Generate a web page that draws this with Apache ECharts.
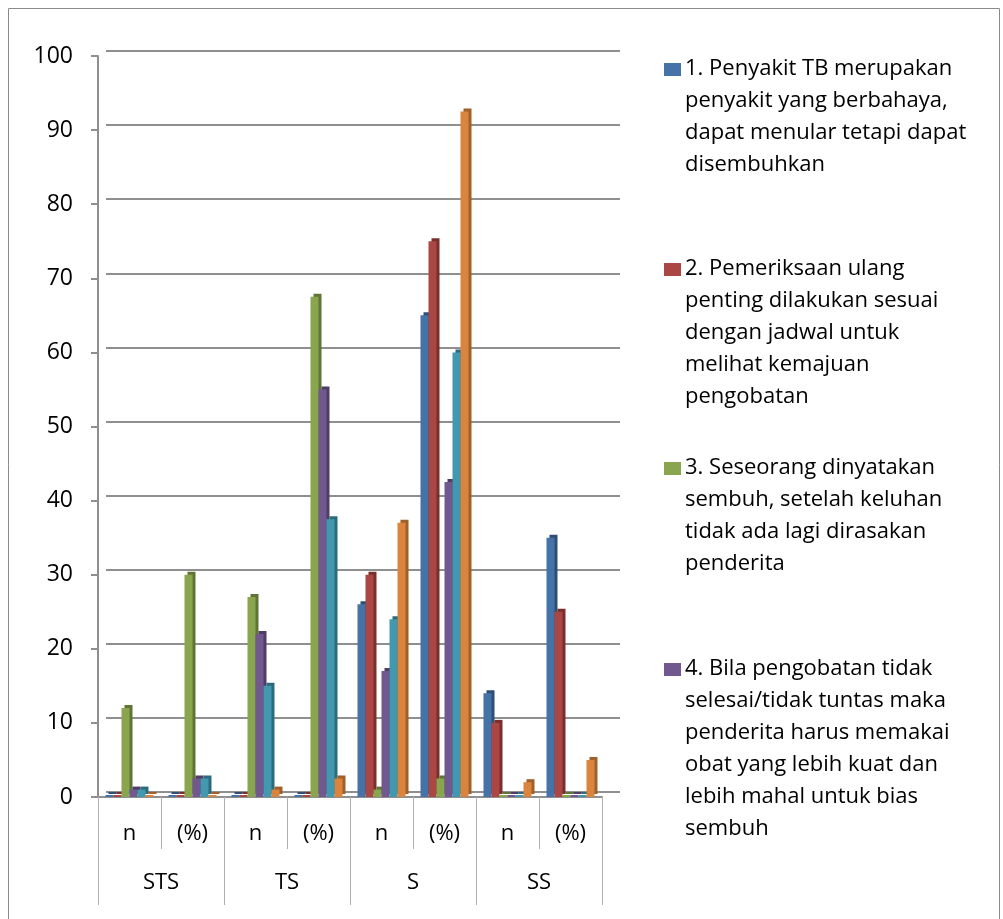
<!DOCTYPE html>
<html>
<head>
<meta charset="utf-8">
<script src="https://cdn.jsdelivr.net/npm/echarts@6/dist/echarts.min.js"></script>
<style>
html,body{margin:0;padding:0;background:#fff;}
#c{width:1003px;height:919px;}
</style>
</head>
<body>
<div id="c"></div>
<script>
// ---- data ----
var subCategories = ['n', '(%)', 'n', '(%)', 'n', '(%)', 'n', '(%)'];
var groupCategories = ['STS', 'TS', 'S', 'SS'];
var yTicks = [0, 10, 20, 30, 40, 50, 60, 70, 80, 90, 100];
var seriesNames = [
  '1. Penyakit TB merupakan penyakit yang berbahaya, dapat menular tetapi dapat disembuhkan',
  '2. Pemeriksaan ulang penting dilakukan sesuai dengan jadwal untuk melihat kemajuan pengobatan',
  '3. Seseorang dinyatakan sembuh, setelah keluhan tidak ada lagi dirasakan penderita',
  '4. Bila pengobatan tidak selesai/tidak tuntas maka penderita harus memakai obat yang lebih kuat dan lebih mahal untuk bias sembuh',
  '5.',
  '6.'
];
var legendLines = [
  ['1. Penyakit TB merupakan', 'penyakit yang berbahaya,', 'dapat menular tetapi dapat', 'disembuhkan'],
  ['2. Pemeriksaan ulang', 'penting dilakukan sesuai', 'dengan jadwal untuk', 'melihat kemajuan', 'pengobatan'],
  ['3. Seseorang dinyatakan', 'sembuh, setelah keluhan', 'tidak ada lagi dirasakan', 'penderita'],
  ['4. Bila pengobatan tidak', 'selesai/tidak tuntas maka', 'penderita harus memakai', 'obat yang lebih kuat dan', 'lebih mahal untuk bias', 'sembuh']
];
var s1 = [0, 0, 0, 0, 26, 65, 14, 35];
var s2 = [0, 0, 0, 0, 30, 75, 10, 25];
var s3 = [12, 30, 27, 67.5, 1, 2.5, 0, 0];
var s4 = [1, 2.5, 22, 55, 17, 42.5, 0, 0];
var s5 = [1, 2.5, 15, 37.5, 24, 60, 0, 0];
var s6 = [0, 0, 1, 2.5, 37, 92.5, 2, 5];
var seriesData = [s1, s2, s3, s4, s5, s6];

// ---- style ----
var colors = ['#4572A7', '#AA4643', '#89A54E', '#71588F', '#4198AF', '#DB843D'];
var sideColors = ['#2F4F77', '#7A2F2D', '#5F7536', '#4F3D66', '#2C6B7C', '#A0602A'];
var FONT = 'Open Sans';
var gridCol = '#8f8f8f';

var series = seriesData.map(function (d, i) {
  return {
    name: seriesNames[i],
    type: 'bar',
    xAxisIndex: 0,
    yAxisIndex: 0,
    data: d,
    barWidth: 8,
    barGap: '0%',
    barMinHeight: 2,
    itemStyle: {
      color: colors[i],
      shadowColor: sideColors[i],
      shadowOffsetX: 3,
      shadowOffsetY: -3,
      shadowBlur: 0
    },
    animation: false
  };
});

var graphics = [{
  type: 'rect',
  shape: { x: 8.5, y: 8.5, width: 991, height: 1000 },
  style: { fill: 'none', stroke: '#8a8a8a', lineWidth: 1 },
  silent: true
}];
var legendTops = [69, 269, 468, 669];
legendLines.forEach(function (lines, i) {
  graphics.push({
    type: 'rect',
    shape: { x: 664, y: legendTops[i] - 6, width: 17, height: 13 },
    style: { fill: colors[i] }
  });
  graphics.push({
    type: 'text',
    x: 685,
    y: legendTops[i] - 16,
    style: {
      text: lines.join('\n'),
      font: '22px "' + FONT + '"',
      fill: '#000',
      lineHeight: 32,
      textVerticalAlign: 'top'
    }
  });
});

var option = {
  animation: false,
  backgroundColor: '#fff',
  grid: [
    { left: 98, right: 401, top: 56, bottom: 122 },
    { left: 106, right: 383, top: 51, bottom: 127 }
  ],
  xAxis: [
    {
      type: 'category', gridIndex: 0, position: 'bottom',
      data: subCategories,
      axisLine: { show: true, lineStyle: { color: gridCol, width: 2 } },
      axisTick: { show: true, interval: 0, length: 52, lineStyle: { color: '#b0b0b0', width: 1 } },
      axisLabel: { interval: 0, margin: 26, fontSize: 22, color: '#000', fontFamily: FONT }
    },
    {
      type: 'category', gridIndex: 0, position: 'bottom',
      data: groupCategories,
      axisLine: { show: false },
      axisTick: { show: true, interval: 0, length: 108, lineStyle: { color: '#b0b0b0', width: 1 } },
      axisLabel: { interval: 0, margin: 75, fontSize: 22, color: '#000', fontFamily: FONT }
    },
    {
      type: 'category', gridIndex: 1, data: subCategories, show: false
    }
  ],
  yAxis: [
    {
      type: 'value', gridIndex: 0, min: 0, max: 100, interval: 10,
      axisLine: { show: true, lineStyle: { color: gridCol, width: 2 } },
      axisTick: { show: true, length: 7, lineStyle: { color: gridCol, width: 2 } },
      splitLine: { show: false },
      axisLabel: { margin: 25, fontSize: 23, color: '#000', fontFamily: FONT }
    },
    {
      type: 'value', gridIndex: 1, min: 0, max: 100, interval: 10,
      axisLine: { show: false }, axisTick: { show: false }, axisLabel: { show: false },
      splitLine: { show: true, lineStyle: { color: gridCol, width: 2 } }
    }
  ],
  series: series,
  graphic: graphics
};

var chart = echarts.init(document.getElementById('c'), null, { renderer: 'canvas' });
chart.setOption(option);
</script>
</body>
</html>
